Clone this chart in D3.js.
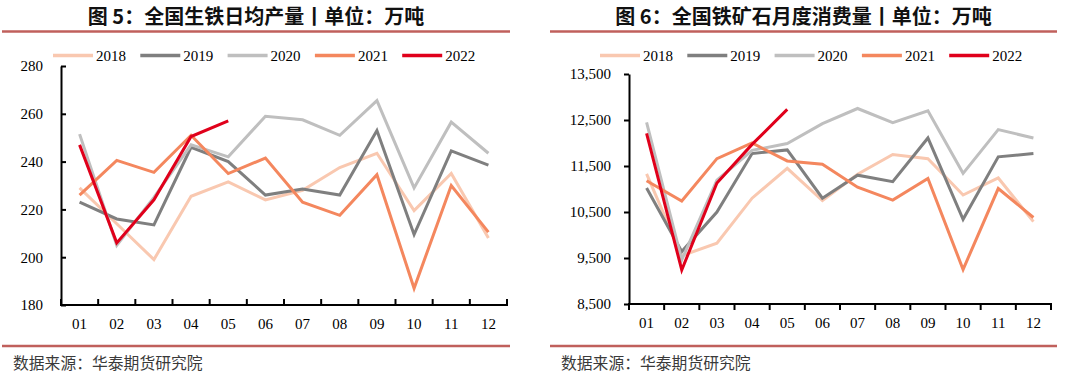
<!DOCTYPE html>
<html><head><meta charset="utf-8">
<script src="https://cdn.jsdelivr.net/npm/d3@7/dist/d3.min.js"></script>
<style>
html,body{margin:0;padding:0;background:#fff;}
svg{display:block;}
</style></head>
<body>
<svg id="c" width="1080" height="378"></svg>
<script>
const months = ["01","02","03","04","05","06","07","08","09","10","11","12"];
const years = ["2018","2019","2020","2021","2022"];
const colors = ["#f9c8b0","#7f7f7f","#bfbfbf","#f4875e","#e0001b"];

// Chart 1: daily pig iron output (10k t)
const iron2018 = [229,214,199,225.5,231.5,224,228,237.5,243.5,219.5,235,208];
const iron2019 = [223,216,213.5,246,240,226,228.5,226,253,209.5,244.5,238.5];
const iron2020 = [251.5,205,225,247,242,259,257.5,251,265.5,229,256.5,243.5];
const iron2021 = [226,240.5,235.5,251,235,241.5,223,217.5,234.5,187,230,210.5];
const iron2022 = [247,206,224,250.5,257];
const ironTicks = [180,200,220,240,260,280];

// Chart 2: monthly iron ore consumption (10k t)
const ore2018 = [11330,9550,9820,10800,11450,10750,11320,11750,11660,10870,11240,10290];
const ore2019 = [11020,9640,10500,11770,11850,10800,11300,11160,12110,10340,11700,11770];
const ore2020 = [12450,9460,11190,11840,11990,12420,12750,12440,12700,11340,12290,12110];
const ore2021 = [11180,10740,11660,12000,11610,11540,11040,10760,11230,9250,11010,10380];
const ore2022 = [12210,9240,11130,11970,12730];
const oreTicks = [8500,9500,10500,11500,12500,13500];

const titles = ["图 5：全国生铁日均产量丨单位：万吨","图 6：全国铁矿石月度消费量丨单位：万吨"];
const source = "数据来源：华泰期货研究院";

const svg = d3.select("#c");
const serif = "'Liberation Serif','Times New Roman',serif";
const cjk = "'Noto Sans CJK SC','Noto Sans',sans-serif";

const panels = [
  {x0:2,x1:510,axisX:61,right:507,top:66,bottom:305,domain:[180,280],ticks:ironTicks,fmt:d3.format("d"),
   data:[iron2018,iron2019,iron2020,iron2021,iron2022],legendX:53,inside:true,title:titles[0]},
  {x0:550,x1:1057,axisX:629,right:1051,top:74,bottom:304,domain:[8500,13500],ticks:oreTicks,fmt:d3.format(","),
   data:[ore2018,ore2019,ore2020,ore2021,ore2022],legendX:600,inside:false,title:titles[1]}
];

panels.forEach(p=>{
  const g = svg.append("g");
  // title
  g.append("text").attr("x",(p.x0+p.x1)/2).attr("y",24).attr("text-anchor","middle")
    .attr("font-family",cjk).attr("font-weight","bold").attr("font-size",20).attr("fill","#111")
    .text(p.title);
  g.append("line").attr("x1",p.x0).attr("x2",p.x1).attr("y1",31.5).attr("y2",31.5)
    .attr("stroke","#c0605c").attr("stroke-width",2.5);
  g.append("line").attr("x1",p.x0).attr("x2",p.x1).attr("y1",346).attr("y2",346)
    .attr("stroke","#c0605c").attr("stroke-width",2.5);
  g.append("text").attr("x",p.x0+11).attr("y",369).attr("font-family",cjk).attr("font-size",15.8)
    .attr("fill","#3a3a3a").text(source);

  const x = d3.scaleBand().domain(months).range([p.axisX,p.right]);
  const y = d3.scaleLinear().domain(p.domain).range([p.bottom,p.top]);

  // y axis
  const ya = d3.axisLeft(y).tickValues(p.ticks).tickFormat(p.fmt)
    .tickSizeInner(p.inside?-5:5).tickSizeOuter(0).tickPadding(p.inside?18:13);
  const yg = g.append("g").attr("transform",`translate(${p.axisX},0)`).call(ya);
  yg.select(".domain").attr("stroke","#000").attr("stroke-width",2);
  yg.selectAll(".tick line").attr("stroke","#000").attr("stroke-width",2);
  yg.selectAll(".tick text").attr("font-family",serif).attr("font-size",15).attr("fill","#000");

  // x axis
  const xa = d3.axisBottom(x).tickSize(0).tickPadding(13);
  const xg = g.append("g").attr("transform",`translate(0,${p.bottom})`).call(xa);
  xg.select(".domain").remove();
  xg.selectAll(".tick text").attr("font-family",serif).attr("font-size",15).attr("fill","#000");
  xg.append("line").attr("x1",p.axisX-1).attr("x2",p.right+1).attr("y1",0).attr("y2",0)
    .attr("stroke","#000").attr("stroke-width",2);
  const bounds = months.map(m=>x(m)).concat([p.right]);
  xg.selectAll("line.b").data(bounds).join("line").attr("class","b")
    .attr("x1",d=>d).attr("x2",d=>d).attr("y1",0).attr("y2",p.inside?-6:6)
    .attr("stroke","#000").attr("stroke-width",2);

  // lines
  const line = d3.line().x((d,i)=>x(months[i])+x.bandwidth()/2).y(d=>y(d));
  p.data.forEach((arr,k)=>{
    g.append("path").datum(arr).attr("d",line).attr("fill","none")
      .attr("stroke",colors[k]).attr("stroke-width",3).attr("stroke-linejoin","miter");
  });

  // legend
  years.forEach((yr,k)=>{
    const lx = p.legendX + k*87.3;
    g.append("line").attr("x1",lx).attr("x2",lx+40).attr("y1",55.5).attr("y2",55.5)
      .attr("stroke",colors[k]).attr("stroke-width",3.5);
    g.append("text").attr("x",lx+43).attr("y",61).attr("font-family",serif).attr("font-size",15)
      .attr("fill","#000").text(yr);
  });
});
</script>
</body></html>
